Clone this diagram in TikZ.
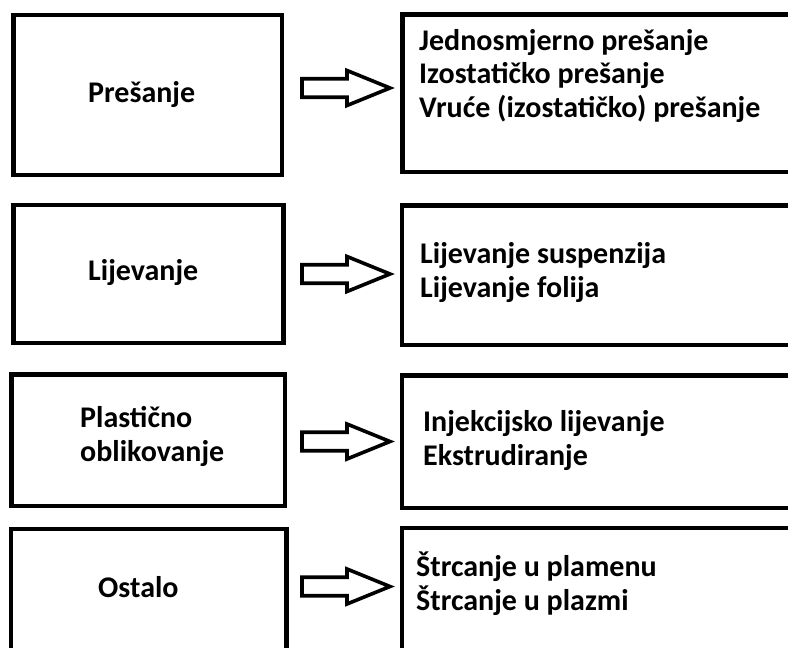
\documentclass[tikz,border=0pt]{standalone}
\usepackage{fontspec}
\setmainfont{Carlito}
\begin{document}
\begin{tikzpicture}[x=1pt,y=-1pt,
  box/.style={draw=black, line width=4.5pt, inner sep=0pt, fill=white},
  blockarrow/.style={draw=black, line width=3.6pt, fill=white, line join=miter},
  lbl/.style={font=\fontsize{30}{33.5}\selectfont\bfseries, inner sep=0pt, align=left, anchor=base west, text=black}]
\useasboundingbox (0,0) rectangle (788,648);
\clip (0,0) rectangle (788,648);
\fill[white] (0,0) rectangle (788,648);
% left boxes
\node[box, minimum width=268.5pt, minimum height=160pt] (L1) at (147.75,95) {};
\node[box, minimum width=270pt, minimum height=138pt] (L2) at (148.5,274) {};
\node[box, minimum width=273.3pt, minimum height=131.5pt] (L3) at (148.3,440.25) {};
\node[box, minimum width=275.7pt, minimum height=171pt] (L4) at (148.6,614.5) {};
% right boxes
\node[box, minimum width=407.5pt, minimum height=157.5pt] (R1) at (606.25,93.25) {};
\node[box, minimum width=408pt, minimum height=139.5pt] (R2) at (606,275.25) {};
\node[box, minimum width=408pt, minimum height=132.5pt] (R3) at (606,441.75) {};
\node[box, minimum width=408pt, minimum height=172pt] (R4) at (606,614) {};
% block arrows
\foreach \n/\y in {A1/88, A2/274, A3/441.5, A4/586.5}{
  \coordinate (\n) at (302,\y);
  \draw[blockarrow] (\n) ++(0,-9.25) -- ++(45,0) -- ++(0,-8.25) -- ++(43,17.5)
    -- ++(-43,17.5) -- ++(0,-8.25) -- ++(-45,0) -- cycle;
}
% texts (base anchor = baseline of the last line)
\node[lbl] (t1) at (88,102) {Prešanje};
\node[lbl] (t2) at (88,280) {Lijevanje};
\node[lbl] (t3) at (80,461) {Plastično\\oblikovanje};
\node[lbl] (t4) at (98,597) {Ostalo};
\node[lbl] (r1) at (419,117) {Jednosmjerno prešanje\\Izostatičko prešanje\\Vruće (izostatičko) prešanje};
\node[lbl] (r2) at (420,297) {Lijevanje suspenzija\\Lijevanje folija};
\node[lbl] (r3) at (423,465) {Injekcijsko lijevanje\\Ekstrudiranje};
\node[lbl] (r4) at (416,610) {Štrcanje u plamenu\\Štrcanje u plazmi};
\end{tikzpicture}
\end{document}
